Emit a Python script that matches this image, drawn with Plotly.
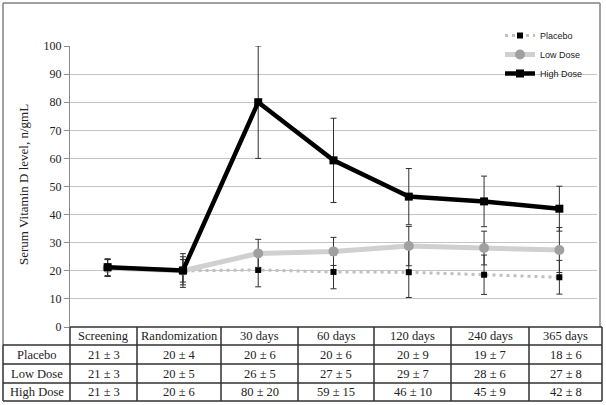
import plotly.graph_objects as go

categories = ["Screening", "Randomization", "30 days", "60 days", "120 days", "240 days", "365 days"]
series_names = ["Placebo", "Low Dose", "High Dose"]

placebo_mean = [21.0, 20.0, 20.3, 19.6, 19.5, 18.6, 17.7]
placebo_sd = [3, 4, 6, 6, 9, 7, 6]
low_mean = [21.0, 20.0, 26.2, 26.9, 28.8, 28.1, 27.4]
low_sd = [3, 5, 5, 5, 7, 6, 8]
high_mean = [21.3, 20.1, 80.0, 59.3, 46.4, 44.7, 42.1]
high_sd = [3, 6, 20, 15, 10, 9, 8]

table_placebo = ["21 ± 3", "20 ± 4", "20 ± 6", "20 ± 6", "20 ± 9", "19 ± 7", "18 ± 6"]
table_low = ["21 ± 3", "20 ± 5", "26 ± 5", "27 ± 5", "29 ± 7", "28 ± 6", "27 ± 8"]
table_high = ["21 ± 3", "20 ± 6", "80 ± 20", "59 ± 15", "46 ± 10", "45 ± 9", "42 ± 8"]
table_rows = [table_placebo, table_low, table_high]

y_ticks = list(range(0, 101, 10))

W, H = 606, 405
L, R, T, B = 70, 9, 46, 78
PW = W - L - R
PH = H - T - B


def X(px):
    return (px - L) / PW


def Y(py):
    return (H - B - py) / PH


err_color = "#303030"
fig = go.Figure()
fig.add_trace(go.Scatter(
    x=categories, y=placebo_mean, name=series_names[0], mode="lines+markers",
    line=dict(color="#c0c0c0", width=3, dash="3px,4px"),
    marker=dict(symbol="square", size=6, color="#000000"),
    error_y=dict(type="data", array=placebo_sd, color=err_color, thickness=1, width=3),
))
fig.add_trace(go.Scatter(
    x=categories, y=low_mean, name=series_names[1], mode="lines+markers",
    line=dict(color="#d0d0d0", width=5),
    marker=dict(symbol="circle", size=10, color="#a0a0a0"),
    error_y=dict(type="data", array=low_sd, color=err_color, thickness=1, width=3),
))
fig.add_trace(go.Scatter(
    x=categories, y=high_mean, name=series_names[2], mode="lines+markers",
    line=dict(color="#000000", width=4.5),
    marker=dict(symbol="square", size=8, color="#000000"),
    error_y=dict(type="data", array=high_sd, color=err_color, thickness=1, width=3),
))

shapes = []
frame_c = "#808080"
# outer frame
shapes.append(dict(type="line", xref="paper", yref="paper", x0=X(3), x1=X(600), y0=Y(3), y1=Y(3),
                   line=dict(color=frame_c, width=1.5)))
shapes.append(dict(type="line", xref="paper", yref="paper", x0=X(3), x1=X(3), y0=Y(3), y1=Y(345),
                   line=dict(color=frame_c, width=1.5)))
shapes.append(dict(type="line", xref="paper", yref="paper", x0=X(600), x1=X(600), y0=Y(3), y1=Y(327),
                   line=dict(color=frame_c, width=1.5)))

# table
col_b = [3, 70, 137, 221, 298, 374, 451, 529, 602]
row_b = [327, 345, 364, 383, 401]
tc = "#303030"
tw = 1.5
shapes.append(dict(type="line", xref="paper", yref="paper", x0=X(70), x1=X(602), y0=Y(row_b[0]), y1=Y(row_b[0]),
                   line=dict(color=tc, width=tw)))
for rb in row_b[1:]:
    shapes.append(dict(type="line", xref="paper", yref="paper", x0=X(3), x1=X(602), y0=Y(rb), y1=Y(rb),
                       line=dict(color=tc, width=tw)))
shapes.append(dict(type="line", xref="paper", yref="paper", x0=X(3), x1=X(3), y0=Y(row_b[1]), y1=Y(row_b[-1]),
                   line=dict(color=tc, width=tw)))
for cb in col_b[1:]:
    shapes.append(dict(type="line", xref="paper", yref="paper", x0=X(cb), x1=X(cb), y0=Y(row_b[0]), y1=Y(row_b[-1]),
                       line=dict(color=tc, width=tw)))

annotations = []
tfont = dict(family="Liberation Serif", size=12.5, color="#222222")
for i, cat in enumerate(categories):
    cx = (col_b[i + 1] + col_b[i + 2]) / 2
    cy = (row_b[0] + row_b[1]) / 2
    annotations.append(dict(text=cat, xref="paper", yref="paper", x=X(cx), y=Y(cy), showarrow=False,
                            xanchor="center", yanchor="middle", font=tfont))
for r, (name, vals) in enumerate(zip(series_names, table_rows)):
    cy = (row_b[r + 1] + row_b[r + 2]) / 2
    annotations.append(dict(text=name, xref="paper", yref="paper", x=X((col_b[0] + col_b[1]) / 2), y=Y(cy),
                            showarrow=False, xanchor="center", yanchor="middle", font=tfont))
    for i, v in enumerate(vals):
        cx = (col_b[i + 1] + col_b[i + 2]) / 2
        annotations.append(dict(text=v, xref="paper", yref="paper", x=X(cx), y=Y(cy), showarrow=False,
                                xanchor="center", yanchor="middle", font=tfont))

annotations.append(dict(text="Serum Vitamin D level, n/gmL", xref="paper", yref="paper", x=X(23), y=Y(185),
                        showarrow=False, textangle=-90, xanchor="center", yanchor="middle",
                        font=dict(family="Liberation Serif", size=13, color="#222222")))

fig.update_layout(
    width=W, height=H, autosize=False,
    margin=dict(l=L, r=R, t=T, b=B, pad=0),
    paper_bgcolor="white", plot_bgcolor="white",
    showlegend=True,
    legend=dict(x=X(500), y=Y(21), xanchor="left", yanchor="top", bgcolor="rgba(0,0,0,0)",
                font=dict(family="Liberation Sans", size=9, color="#222222"), tracegroupgap=0,
                itemwidth=30),
    xaxis=dict(range=[-0.5, 6.5], showticklabels=False, showgrid=False, zeroline=False,
               showline=False, ticks=""),
    yaxis=dict(range=[0, 100], tickvals=y_ticks, showgrid=True, gridcolor="#c4c4c4", gridwidth=1,
               zeroline=False, showline=True, linecolor="#8c8c8c", linewidth=1, ticks="outside",
               ticklen=5, tickcolor="#8c8c8c",
               tickfont=dict(family="Liberation Serif", size=12, color="#222222")),
    shapes=shapes, annotations=annotations,
)

fig.write_html("out.html", config={"displayModeBar": False},
               post_script="document.body.style.margin='0';document.body.style.padding='0';")
